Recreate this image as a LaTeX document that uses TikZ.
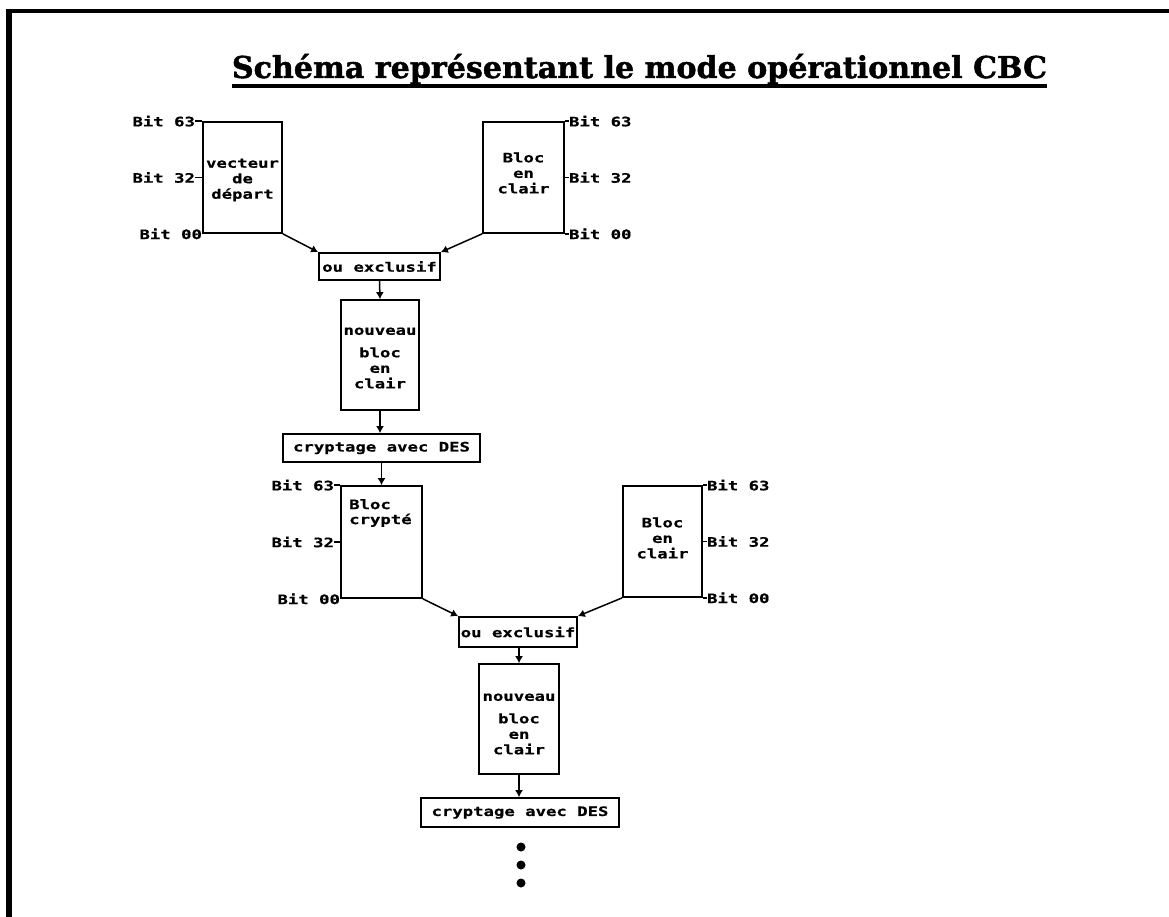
\documentclass[tikz,border=0pt]{standalone}
\usepackage{fontspec}
\newfontfamily\pix[FakeStretch=1.33,FakeBold=0.6]{DejaVu Sans Mono}
\newfontfamily\titlefont[FakeBold=1.5]{DejaVu Serif}
\usetikzlibrary{arrows.meta}
\begin{document}
\begin{tikzpicture}[x=1pt,y=-1pt,
  box/.style={draw, line width=1.7pt, inner sep=0pt},
  txt/.style={font=\pix\bfseries\fontsize{13}{15.5}\selectfont, inner sep=0pt, align=center},
  bitlbl/.style={font=\pix\bfseries\fontsize{13}{15}\selectfont, inner sep=0pt, anchor=east},
  tick/.style={line width=1.4pt},
  arr/.style={line width=1.5pt, -{Latex[length=7pt,width=8pt]}},
]
\useasboundingbox (0,0) rectangle (1169,917);
% frame
\draw[line width=4pt] (6,11) -- (1169,11);
\draw[line width=6pt] (9,9) -- (9,917);
% title
\node[font=\titlefont\bfseries, inner sep=0pt, anchor=base] (title) at (639.5,78)
  {\resizebox{815pt}{!}{Schéma représentant le mode opérationnel CBC}};
\draw[line width=3.5pt] (232,86) -- (1047,86);

% first stage
\node[box, minimum width=79pt, minimum height=111pt] (b1) at (242.5,177.5) {};
\node[txt] (b1t) at (242.5,180) {vecteur\\de\\départ};
\node[box, minimum width=81pt, minimum height=111pt] (b2) at (523.5,177.5) {};
\node[txt] (b2t) at (523.5,173) {Bloc\\en\\clair};

\draw[tick] (b1.north west) -- ++(-7,0) coordinate (t1a);
\node[bitlbl] (l1a) at (t1a) {Bit 63};
\draw[tick] (b1.west) -- ++(-7,0) coordinate (t1b);
\node[bitlbl] (l1b) at (t1b) {Bit 32};
\node[bitlbl] (l1c) at (b1.south west) {Bit 00};

\draw[tick] (b2.north east) -- ++(4,0) coordinate (t2a);
\node[bitlbl, anchor=west] (l2a) at (t2a) {Bit 63};
\draw[tick] (b2.east) -- ++(4,0) coordinate (t2b);
\node[bitlbl, anchor=west] (l2b) at (t2b) {Bit 32};
\draw[tick] (b2.south east) -- ++(4,0) coordinate (t2c);
\node[bitlbl, anchor=west] (l2c) at (t2c) {Bit 00};

\node[box, minimum width=121pt, minimum height=27pt, txt] (x1) at (379.5,266.5) {ou exclusif};
\node[box, minimum width=78pt, minimum height=110pt] (n1) at (380,355) {};
\node[txt] (n1t) at (380,358) {nouveau\\[7pt]bloc\\en\\clair};
\node[box, minimum width=197pt, minimum height=28pt, txt] (c1) at (381.5,448) {cryptage avec DES};

\draw[arr] (b1.south east) -- (x1.north west);
\draw[arr] (b2.south west) -- (x1.north east);
\draw[arr] (x1.south) -- (n1.north);
\draw[arr] (n1.south) -- (c1.north -| n1.south);

% second stage
\node[box, minimum width=81pt, minimum height=112pt] (b3) at (381.5,542) {};
\node[txt, align=left, anchor=north west, font=\pix\bfseries\fontsize{13}{15}\selectfont] (b3t) at (349,499) {Bloc\\crypté};
\node[box, minimum width=79pt, minimum height=111pt] (b4) at (662.5,541.5) {};
\node[txt] (b4t) at (662.5,538) {Bloc\\en\\clair};

\draw[tick] (b3.north west) -- ++(-6,0) coordinate (t3a);
\node[bitlbl] (l3a) at (t3a) {Bit 63};
\draw[tick] (b3.west) -- ++(-6,0) coordinate (t3b);
\node[bitlbl] (l3b) at (t3b) {Bit 32};
\node[bitlbl] (l3c) at (b3.south west) {Bit 00};

\draw[tick] (b4.north east) -- ++(4,0) coordinate (t4a);
\node[bitlbl, anchor=west] (l4a) at (t4a) {Bit 63};
\draw[tick] (b4.east) -- ++(4,0) coordinate (t4b);
\node[bitlbl, anchor=west] (l4b) at (t4b) {Bit 32};
\draw[tick] (b4.south east) -- ++(4,0) coordinate (t4c);
\node[bitlbl, anchor=west] (l4c) at (t4c) {Bit 00};

\draw[arr] (c1.south -| b3.north) -- (b3.north);

\node[box, minimum width=118pt, minimum height=30pt, txt] (x2) at (518,632) {ou exclusif};
\node[box, minimum width=80pt, minimum height=110pt] (n2) at (519,719) {};
\node[txt] (n2t) at (519,724) {nouveau\\[7pt]bloc\\en\\clair};
\node[box, minimum width=198pt, minimum height=29pt, txt] (c2) at (520,812.5) {cryptage avec DES};

\draw[arr] (b3.south east) -- (x2.north west);
\draw[arr] (b4.south west) -- (x2.north east);
\draw[arr] (x2.south -| n2.north) -- (n2.north);
\draw[arr] (n2.south) -- (c2.north -| n2.south);

% continuation dots
\fill (521,847) circle (4.5);
\fill (521,865) circle (4.5);
\fill (521,883) circle (4.5);
\end{tikzpicture}
\end{document}
